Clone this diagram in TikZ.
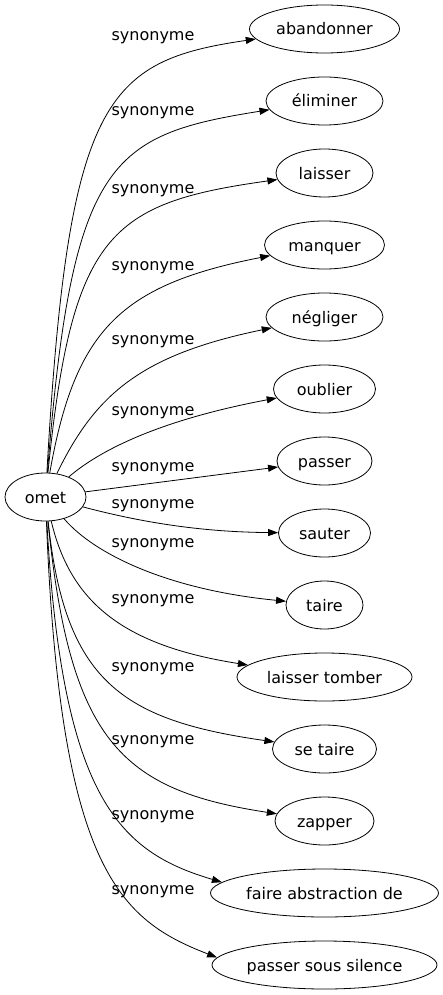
\documentclass[tikz,border=0pt]{standalone}
\usepackage{fontspec}
\setmainfont{DejaVu Sans}
\usepackage{tikz}
\usetikzlibrary{shapes.geometric,arrows.meta}
\newcommand{\wordfont}{\fontsize{16pt}{19pt}\selectfont}
\tikzstyle{word} = [ellipse, draw=black, line width=0.8pt, inner sep=0pt, minimum height=48pt, text height=12pt, text depth=0pt, font=\wordfont]
\tikzstyle{rel} = [inner sep=0pt, font=\wordfont]
\tikzstyle{arrow} = [line width=0.8pt,->,>={Triangle[length=10pt,width=7pt]}]

\begin{document}
\begin{tikzpicture}[x=1pt, y=-1pt, node distance=72pt]
	\useasboundingbox (0,0) rectangle (443,995);
	\node (omet) [word, minimum width=81pt] at (45.5,497) {omet};

	\node (abandonner) [word, minimum width=150pt] at (324.5,29) {abandonner};
	\node (eliminer) [word, minimum width=117pt, below of=abandonner] {éliminer};
	\node (laisser) [word, minimum width=97pt, below of=eliminer] {laisser};
	\node (manquer) [word, minimum width=120pt, below of=laisser] {manquer};
	\node (negliger) [word, minimum width=117pt, below of=manquer] {négliger};
	\node (oublier) [word, minimum width=102pt, below of=negliger] {oublier};
	\node (passer) [word, minimum width=95pt, below of=oublier] {passer};
	\node (sauter) [word, minimum width=92pt, below of=passer] {sauter};
	\node (taire) [word, minimum width=77pt, below of=sauter] {taire};
	\node (tomber) [word, minimum width=175pt, below of=taire] {laisser tomber};
	\node (setaire) [word, minimum width=104pt, below of=tomber] {se taire};
	\node (zapper) [word, minimum width=99pt, below of=setaire] {zapper};
	\node (abstraction) [word, minimum width=228pt, below of=zapper] {faire abstraction de};
	\node (silence) [word, minimum width=225pt, below of=abstraction] {passer sous silence};

	\node (syn1) [rel] at (153,38) {synonyme};
	\node (syn2) [rel] at (153,113) {synonyme};
	\node (syn3) [rel] at (153,191) {synonyme};
	\node (syn4) [rel] at (153,268) {synonyme};
	\node (syn5) [rel] at (153,342) {synonyme};
	\node (syn6) [rel] at (153,413) {synonyme};
	\node (syn7) [rel] at (153,469) {synonyme};
	\node (syn8) [rel] at (153,506) {synonyme};
	\node (syn9) [rel] at (153,545) {synonyme};
	\node (syn10) [rel] at (153,601) {synonyme};
	\node (syn11) [rel] at (153,669) {synonyme};
	\node (syn12) [rel] at (153,742) {synonyme};
	\node (syn13) [rel] at (153,817) {synonyme};
	\node (syn14) [rel] at (153,892) {synonyme};

	\draw [arrow] (omet) .. controls (68,99) and (105,61) .. (abandonner);
	\draw [arrow] (omet) .. controls (72,160) and (110,135) .. (eliminer);
	\draw [arrow] (omet) .. controls (72,233) and (110,203) .. (laisser);
	\draw [arrow] (omet) .. controls (75,330) and (120,285) .. (manquer);
	\draw [arrow] (omet) .. controls (95,395) and (140,355) .. (negliger);
	\draw [arrow] (omet) .. controls (100,450) and (160,420) .. (oublier);
	\draw [arrow] (omet) -- (passer);
	\draw [arrow] (omet) .. controls (140,522) and (200,532) .. (sauter);
	\draw [arrow] (omet) .. controls (95,555) and (170,590) .. (taire);
	\draw [arrow] (omet) .. controls (70,600) and (120,645) .. (tomber);
	\draw [arrow] (omet) .. controls (65,680) and (120,720) .. (setaire);
	\draw [arrow] (omet) .. controls (70,740) and (120,790) .. (zapper);
	\draw [arrow] (omet) .. controls (62,800) and (120,852) .. (abstraction.174);
	\draw [arrow] (omet) .. controls (60,870) and (120,920) .. (silence.176);
\end{tikzpicture}
\end{document}
